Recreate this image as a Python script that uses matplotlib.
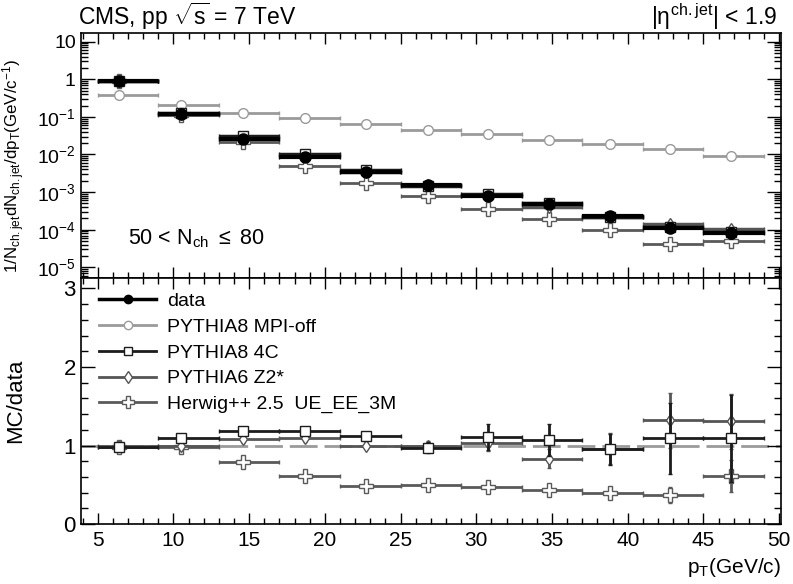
import matplotlib.pyplot as plt
import numpy as np
from matplotlib.lines import Line2D
from matplotlib.ticker import FixedLocator, MultipleLocator, FuncFormatter, LogLocator, NullFormatter

plt.rcParams['font.family'] = ['Liberation Sans', 'DejaVu Sans']
plt.rcParams['mathtext.fontset'] = 'custom'
plt.rcParams['mathtext.rm'] = 'Liberation Sans'
plt.rcParams['mathtext.it'] = 'Liberation Sans'
plt.rcParams['mathtext.bf'] = 'Liberation Sans:bold'

# bins in pT (GeV/c) and mean pT of each bin
edges = [5, 9, 13, 17, 21, 25, 29, 33, 37, 41, 45, 49]
pt = [6.4, 10.5, 14.6, 18.7, 22.7, 26.8, 30.8, 34.8, 38.8, 42.8, 46.8]

# spectra, top panel
data = [0.90, 0.117, 0.026, 0.0086, 0.0035, 0.0015, 0.00080, 0.00049, 0.00023, 0.00011, 0.000080]
data_err = [0.06, 0.012, 0.003, 0.0010, 0.0004, 0.00018, 0.00010, 0.00007, 0.00004, 0.00003, 0.000022]
mpi_off = [0.375, 0.207, 0.129, 0.094, 0.063, 0.046, 0.034, 0.025, 0.019, 0.0138, 0.0090]
herwig = [0.88, 0.113, 0.021, 0.0049, 0.0017, 0.00079, 0.00036, 0.000196, 0.0000958, 0.0000409, 0.000049]

# MC/data ratios, bottom panel
r_4c = [0.98, 1.10, 1.18, 1.18, 1.12, 0.97, 1.11, 1.07, 0.95, 1.09, 1.09]
r_4c_err = [0.03, 0.05, 0.05, 0.05, 0.05, 0.07, 0.17, 0.20, 0.20, 0.45, 0.55]
r_z2 = [1.00, 1.00, 1.08, 1.10, 1.00, 1.00, 1.03, 0.83, 0.96, 1.32, 1.31]
r_z2_err = [0.03, 0.04, 0.05, 0.05, 0.05, 0.06, 0.10, 0.12, 0.20, 0.35, 0.35]
r_hw = [0.98, 0.98, 0.79, 0.61, 0.48, 0.495, 0.466, 0.43, 0.40, 0.37, 0.61]
r_hw_err = [0.02, 0.02, 0.02, 0.03, 0.03, 0.03, 0.04, 0.05, 0.05, 0.10, 0.20]

labels = ['data', 'PYTHIA8 MPI-off', 'PYTHIA8 4C', 'PYTHIA6 Z2*', 'Herwig++ 2.5  UE_EE_3M']

pt = np.array(pt)
xlo = pt - np.array(edges[:-1])
xhi = np.array(edges[1:]) - pt
xerr = [xlo, xhi]
data = np.array(data)
p8_4c = data * np.array(r_4c)
p6_z2 = data * np.array(r_z2)

c_data = 'black'
c_mpi = '#9a9a9a'
c_4c = '#1c1c1c'
c_z2 = '#555555'
c_hw = '#5a5a5a'

fig = plt.figure(figsize=(7.93, 5.84), dpi=100)
ax1 = fig.add_axes([0.1018, 0.5235, 0.8827, 0.4195])
ax2 = fig.add_axes([0.1018, 0.1027, 0.8827, 0.4208])

# ---- top panel
ax1.errorbar(pt, mpi_off, xerr=xerr, fmt='o', color=c_mpi, mfc='white', mec=c_mpi,
             ms=7, lw=2, capsize=1.5, zorder=2)
ax1.errorbar(pt, herwig, xerr=xerr, fmt='P', color=c_hw, mfc='white', mec=c_hw,
             ms=10, lw=2, capsize=1.5, zorder=3)
ax1.errorbar(pt, p6_z2, xerr=xerr, fmt='d', color=c_z2, mfc='white', mec=c_z2,
             ms=6, lw=2.5, capsize=1.5, zorder=4)
ax1.errorbar(pt, p8_4c, xerr=xerr, fmt='s', color=c_4c, mfc='white', mec=c_4c,
             ms=7, lw=2.5, capsize=1.5, zorder=5)
ax1.errorbar(pt, data, xerr=xerr, yerr=data_err, fmt='o', color=c_data, mfc='black',
             ms=8, lw=3, capsize=1.5, zorder=6)

ax1.set_yscale('log')
ax1.set_ylim(5.1e-6, 16.7)
ax1.set_xlim(3.88, 50.1)


def logfmt(v, pos):
    e = int(round(np.log10(v)))
    if e == 1:
        return '10'
    if e == 0:
        return '1'
    return r'$10^{%d}$' % e


ax1.yaxis.set_major_locator(FixedLocator([1e-5, 1e-4, 1e-3, 1e-2, 1e-1, 1, 10]))
ax1.yaxis.set_major_formatter(FuncFormatter(logfmt))
ax1.yaxis.set_minor_locator(LogLocator(base=10, subs=np.arange(2, 10), numticks=20))
ax1.yaxis.set_minor_formatter(NullFormatter())
ax1.xaxis.set_major_locator(MultipleLocator(5))
ax1.xaxis.set_minor_locator(MultipleLocator(1))
ax1.set_xticklabels([])

ax1.set_ylabel(r'1/N$_{\rm ch.jet}$dN$_{\rm ch.jet}$/dp$_{\rm T}$(GeV/c$^{-1}$)', fontsize=12.2)
ax1.yaxis.set_label_coords(-0.077, 0.46)
ax1.text(0.068, 0.14, r'50 < N$_{\rm ch}$ $\leq$ 80', transform=ax1.transAxes, fontsize=15.5)

# ---- bottom panel
ax2.axhline(1, color=c_mpi, lw=2, ls=(0, (10, 2.5)), zorder=1)
ax2.errorbar(pt, r_hw, xerr=xerr, yerr=r_hw_err, fmt='P', color=c_hw, mfc='white', mec=c_hw,
             ms=10, lw=2, capsize=1.5, zorder=3)
ax2.errorbar(pt, r_z2, xerr=xerr, yerr=r_z2_err, fmt='d', color=c_z2, mfc='white', mec=c_z2,
             ms=6, lw=2, capsize=1.5, zorder=4)
ax2.errorbar(pt, r_4c, xerr=xerr, yerr=r_4c_err, fmt='s', color=c_4c, mfc='white', mec=c_4c,
             ms=7, lw=2, capsize=1.5, zorder=5)

ax2.set_xlim(3.88, 50.1)
ax2.set_ylim(0, 3.13)
ax2.yaxis.set_major_locator(FixedLocator([0, 1, 2, 3]))
ax2.yaxis.set_minor_locator(MultipleLocator(0.2))
ax2.xaxis.set_major_locator(MultipleLocator(5))
ax2.xaxis.set_minor_locator(MultipleLocator(1))
ax2.set_ylabel('MC/data', fontsize=16)
ax2.yaxis.set_label_coords(-0.078, 0.5)
ax2.set_xlabel(r'p$_{\rm T}$(GeV/c)', fontsize=15, loc='right', labelpad=4)

# legend proxies: line through marker
handles = [
    Line2D([], [], color=c_data, lw=2.5, marker='o', ms=6, mfc='black'),
    Line2D([], [], color=c_mpi, lw=2, marker='o', ms=6, mfc='white', mec=c_mpi),
    Line2D([], [], color=c_4c, lw=2, marker='s', ms=6, mfc='white', mec=c_4c),
    Line2D([], [], color=c_z2, lw=2, marker='d', ms=6, mfc='white', mec=c_z2),
    Line2D([], [], color=c_hw, lw=2, marker='P', ms=8, mfc='white', mec=c_hw),
]
ax2.legend(handles, labels, loc='upper left', bbox_to_anchor=(0.01, 0.99), frameon=False,
           fontsize=14, handlelength=2.9, handletextpad=0.6, labelspacing=0.42, borderaxespad=0.2)

for ax in (ax1, ax2):
    ax.tick_params(which='both', direction='in', top=True, right=True, labelsize=14, width=1)
    ax.tick_params(axis='y', which='major', length=10)
    ax.tick_params(axis='y', which='minor', length=5)
    ax.tick_params(axis='x', which='major', length=8)
    ax.tick_params(axis='x', which='minor', length=4)
    for s in ax.spines.values():
        s.set_linewidth(1.2)
ax2.tick_params(axis='x', labelsize=15, pad=5)
ax2.tick_params(axis='y', labelsize=16)

fig.text(0.098, 0.972, r'CMS, pp $\sqrt{s}$ = 7 TeV', fontsize=16.5, va='center')
fig.text(0.98, 0.972, r'|$\eta^{\rm ch.jet}$| < 1.9', fontsize=16.5, va='center', ha='right')

fig.savefig('out.png', dpi=100)
